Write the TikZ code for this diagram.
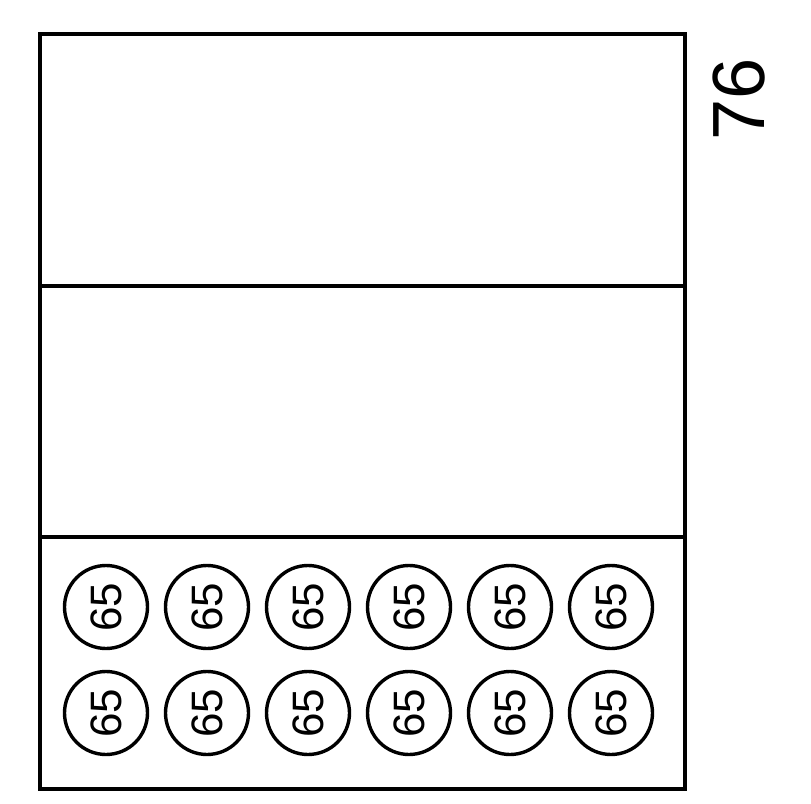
\documentclass[tikz,border=0pt]{standalone}
\usepackage{fontspec}
\setmainfont{Liberation Sans}
\tikzset{
  panel/.style={draw, line width=4pt, rectangle, inner sep=0pt, outer sep=0pt,
    minimum width=645pt, minimum height=251.5pt},
  cell/.style={draw, circle, line width=3.4pt, minimum size=83pt, inner sep=0pt,
    rotate=90, font=\fontsize{44}{44}\selectfont},
  partno/.style={rotate=90, font=\fontsize{74}{74}\selectfont}
}
\begin{document}
\begin{tikzpicture}[x=1pt,y=-1pt]
    \useasboundingbox (0,0) rectangle (811,803);
    % three stacked panels
    \node[panel, anchor=north west] (upper) at (40,34) {};
    \node[panel, anchor=north] (middle) at (upper.south) {};
    \node[panel, anchor=north] (lower) at (middle.south) {};
    % reference number
    \node[partno] (num) at (739,99) {76};
    % two rows of cells
    \foreach \i in {1,...,6} {
        \pgfmathsetmacro{\cx}{106+101*(\i-1)}
        \node[cell] (a\i) at (\cx,607) {65};
        \node[cell] (b\i) at (\cx,713) {65};
    }
\end{tikzpicture}
\end{document}
